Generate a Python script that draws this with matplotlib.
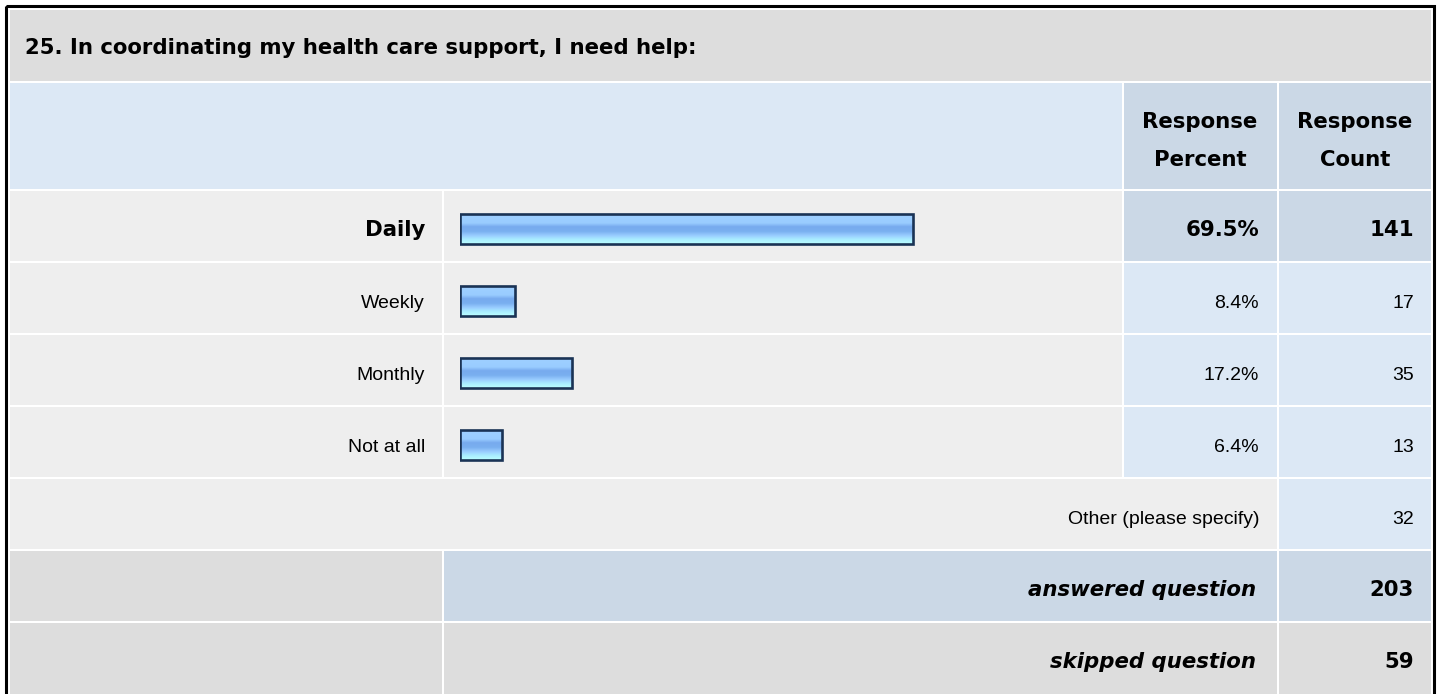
import matplotlib
matplotlib.use("Agg")
import matplotlib.pyplot as plt
from matplotlib.patches import Rectangle
from matplotlib.colors import LinearSegmentedColormap
import numpy as np

plt.rcParams['font.family'] = ['Liberation Sans', 'DejaVu Sans']

# data
title = "25. In coordinating my health care support, I need help:"
answers = ["Daily", "Weekly", "Monthly", "Not at all"]
percents = [69.5, 8.4, 17.2, 6.4]
counts = [141, 17, 35, 13]
other_count = 32
answered = 203
skipped = 59

W, H = 1440, 694
fig = plt.figure(figsize=(W / 100, H / 100), dpi=100)
ax = fig.add_axes([0, 0, 1, 1])
ax.set_xlim(0, W)
ax.set_ylim(H, 0)
ax.axis('off')

GREY = '#dddddd'
LIGHT = '#eeeeee'
BLUE = '#dce8f5'
DBLUE = '#cbd8e6'

# layout grid (pixels)
cols = [10, 444, 1124, 1279, 1433]
rows = [10, 83, 191, 263, 335, 407, 479, 551, 623, 696]
FS = 14
BFS = 15.3
REG = dict(fontsize=FS, va='baseline')
BOLD = dict(fontsize=BFS, family='DejaVu Sans', fontweight='bold', va='baseline')


def cell(c0, c1, r, color):
    x0 = cols[c0]
    x1 = cols[c1] - 2
    y0 = rows[r]
    y1 = rows[r + 1] - 2
    ax.add_patch(Rectangle((x0, y0), x1 - x0, y1 - y0, facecolor=color, edgecolor='none'))


def base(r):
    return (rows[r] + rows[r + 1] - 2) / 2 + 10


# title row
cell(0, 4, 0, GREY)
ax.text(25, 54, title, ha='left', **BOLD)

# header row
cell(0, 2, 1, BLUE)
cell(2, 3, 1, DBLUE)
cell(3, 4, 1, DBLUE)
ax.text(1200, 128, "Response", ha='center', **BOLD)
ax.text(1200, 166, "Percent", ha='center', **BOLD)
ax.text(1355, 128, "Response", ha='center', **BOLD)
ax.text(1355, 166, "Count", ha='center', **BOLD)

# answer rows
for i, (name, p, c) in enumerate(zip(answers, percents, counts)):
    r = 2 + i
    st = BOLD if i == 0 else REG
    col = DBLUE if i == 0 else BLUE
    cell(0, 1, r, LIGHT)
    cell(1, 2, r, LIGHT)
    cell(2, 3, r, col)
    cell(3, 4, r, col)
    ax.text(425, base(r), name, ha='right', **st)
    ax.text(1259, base(r), f"{p:.1f}%", ha='right', **st)
    ax.text(1414, base(r), str(c), ha='right', **st)

# other row
cell(0, 3, 6, LIGHT)
cell(3, 4, 6, BLUE)
ax.text(1259, base(6), "Other (please specify)", ha='right', **REG)
ax.text(1414, base(6), str(other_count), ha='right', **REG)

# answered / skipped
cell(0, 1, 7, GREY)
cell(1, 3, 7, DBLUE)
cell(3, 4, 7, DBLUE)
ax.text(1256, base(7), "answered question", ha='right', fontstyle='italic', **BOLD)
ax.text(1414, base(7), str(answered), ha='right', **BOLD)
cell(0, 1, 8, GREY)
cell(1, 3, 8, GREY)
cell(3, 4, 8, GREY)
ax.text(1256, base(8), "skipped question", ha='right', fontstyle='italic', **BOLD)
ax.text(1414, base(8), str(skipped), ha='right', **BOLD)

# outer border
ax.add_patch(Rectangle((5.5, 5.5), 1428.5, 700, facecolor='none', edgecolor='black', linewidth=2.2))

# bars: separate axes, 0-100 %
bx0, bw = 460, 652
btop, bbot = rows[2], rows[6]
bax = fig.add_axes([bx0 / W, 1 - bbot / H, bw / W, (bbot - btop) / H])
bars = bax.barh(range(len(answers)), percents, height=0.41, left=0,
                color='none', edgecolor='#1a3355', linewidth=1.9, zorder=3)
cmap = LinearSegmentedColormap.from_list('bar', [(0.0, '#9fd0ff'), (0.3, '#99ccff'),
                                                 (0.42, '#77aaee'), (0.58, '#7ab0f0'),
                                                 (0.72, '#99ccff'), (0.86, '#aaeeff'),
                                                 (1.0, '#bbffff')])
grad = np.linspace(0, 1, 64).reshape(-1, 1)
for b in bars:
    x0, y0 = b.get_x(), b.get_y()
    im = bax.imshow(grad, cmap=cmap, aspect='auto', zorder=2,
                    extent=[x0, x0 + b.get_width(), y0 + b.get_height(), y0])
    im.set_clip_path(b)
bax.set_xlim(0, 100)
bax.set_ylim(len(answers) - 0.5 - 0.025, -0.5 - 0.025)
bax.axis('off')

fig.savefig('out.png', dpi=100)
